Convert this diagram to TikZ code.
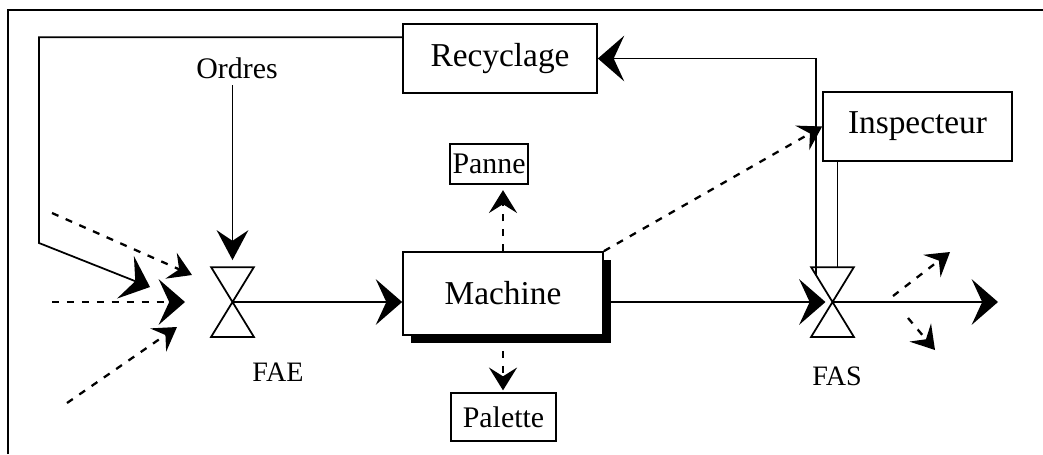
\documentclass[tikz,border=0pt]{standalone}
\usepackage{fontspec}
\setmainfont{Liberation Serif}
\usetikzlibrary{arrows.meta,calc,shadows}

\begin{document}
\begin{tikzpicture}[x=0.02cm,y=-0.02cm,line width=1pt,
  >={Stealth[length=15pt,width=26pt,inset=6pt]},
  box/.style={draw,fill=white,inner sep=0pt,font=\fontsize{19}{22}\selectfont},
  smallbox/.style={draw,fill=white,inner sep=1pt,font=\fontsize{17}{20}\selectfont},
  valve/.style={minimum width=0.82cm,minimum height=1.36cm,inner sep=0pt},
  dotflow/.style={-{Stealth[length=13pt,width=16pt,inset=5pt]},
                  dash pattern=on 4pt off 4.5pt,line width=1.3pt}]
  \useasboundingbox (0,0) rectangle (1043,454);
  \draw[line width=1.2pt] (8,454) -- (8,10) -- (1043,10);

  \node[box,minimum width=3.88cm,minimum height=1.38cm] (recy) at (500,58.5)
    {Recyclage};
  \node[box,minimum width=3.78cm,minimum height=1.38cm] (insp) at (917.5,126.5)
    {Inspecteur};
  \node[box,minimum width=4cm,minimum height=1.66cm,
        drop shadow={shadow xshift=0.16cm,shadow yshift=-0.16cm,
                     fill=black,opacity=1}] (mach) at (503,293.5) {Machine};
  \node[smallbox,minimum width=1.56cm,minimum height=0.8cm] (panne) at (489,164)
    {Panne};
  \node[smallbox,minimum width=2.1cm,minimum height=0.96cm] (pal) at (503.5,417)
    {Palette};
  \node[font=\fontsize{17}{20}\selectfont] (ordres) at (237,68) {Ordres};

  \node[valve] (fae) at (232.5,302) {};
  \node[valve] (fas) at (832.5,302) {};
  \foreach \v in {fae,fas}
    \draw (\v.north west) -- (\v.north east) -- (\v.south west)
      -- (\v.south east) -- cycle;
  \node[font=\fontsize{16}{19}\selectfont] (faelab) at (278,372) {FAE};
  \node[font=\fontsize{16}{19}\selectfont] (faslab) at (837,376) {FAS};

  \coordinate (bend) at (39,243);
  \coordinate (t0) at (150,287);
  \coordinate (in1) at (52,213);
  \coordinate (t1) at (192,275);
  \coordinate (in2) at (52,302);
  \coordinate (t2) at (185,302);
  \coordinate (in3) at (67,403);
  \coordinate (t3) at (177,327);
  \coordinate (out) at (998,302);
  \coordinate (o1s) at (893,296);
  \coordinate (o1) at (950,252);
  \coordinate (o2s) at (908,318);
  \coordinate (o2) at (935,350);
  \coordinate (tap) at ($(fas.north)+(5,0)$);

  \draw[->] ($(recy.north west)+(0,14)$) -| (bend) -- (t0);
  \draw[dotflow] (in1) -- (t1);
  \draw[dotflow,-{Stealth[length=15pt,width=26pt,inset=6pt]}] (in2) -- (t2);
  \draw[dotflow] (in3) -- (t3);
  \draw[-{Stealth[length=17pt,width=18pt,inset=6pt]},shorten >=4pt]
    (fae.north |- ordres.south) -- (fae.north);

  \draw[->] (fae.center) -- (fae.center -| mach.west);
  \draw[->,shorten >=4pt] (fas.center -| mach.east) -- (fas.center);
  \draw[->] (fas.center) -- (out);
  \draw[dotflow] (o1s) -- (o1);
  \draw[dotflow] (o2s) -- (o2);

  \draw[dotflow,shorten >=3pt] (mach.north) -- (mach.north |- panne.south);
  \draw[dotflow,shorten >=1pt] (mach.south) -- (mach.south |- pal.north);
  \draw[dotflow] (mach.north east) -- (insp.west);

  \draw[->] ($(fas.north west)+(5,8)$) |- (recy.east);
  \draw (tap |- insp.south) -- (tap);
\end{tikzpicture}
\end{document}
